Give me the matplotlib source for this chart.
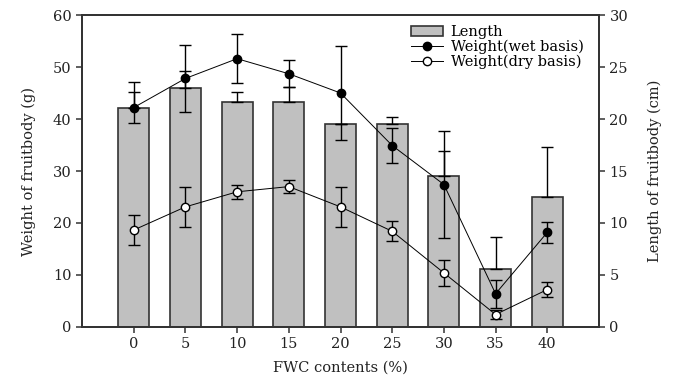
import matplotlib.pyplot as plt
from matplotlib.lines import Line2D

plt.rcParams["font.family"] = "DejaVu Serif"

fwc = [0, 5, 10, 15, 20, 25, 30, 35, 40]

# fruitbody length (cm), upper error only
length = [21.1, 23.0, 21.6, 21.6, 19.5, 19.5, 14.55, 5.55, 12.5]
length_err = [2.45, 1.6, 1.0, 1.5, 0.0, 0.65, 2.4, 3.1, 4.8]

# fruitbody weight (g)
wet = [42.2, 47.8, 51.6, 48.7, 45.0, 34.9, 27.4, 6.4, 18.2]
wet_err = [3.0, 6.5, 4.7, 2.6, 9.0, 3.3, 10.3, 2.7, 2.0]
dry = [18.65, 23.1, 26.0, 27.0, 23.1, 18.4, 10.4, 2.4, 7.2]
dry_err = [2.85, 3.8, 1.3, 1.3, 3.8, 1.9, 2.5, 0.8, 1.4]

fig = plt.figure(figsize=(6.74, 3.82), dpi=100)
ax = fig.add_axes([0.1217, 0.144, 0.767, 0.8167])
ax2 = ax.twinx()

edge = "#333333"
txt = "#222222"
bars = ax2.bar(fwc, length, width=3, color="#c0c0c0", edgecolor=edge,
               linewidth=1.2, label="Length")
ax2.errorbar(fwc, length, yerr=[[0] * len(fwc), length_err], fmt="none",
             ecolor="black", elinewidth=1, capsize=4, capthick=1)

ax.errorbar(fwc, wet, yerr=wet_err, color="black", marker="o",
            markersize=6, markerfacecolor="black", lw=0.7,
            elinewidth=1, capsize=4, capthick=1)
ax.errorbar(fwc, dry, yerr=dry_err, color="black", marker="o",
            markersize=6, markerfacecolor="white", lw=0.7,
            elinewidth=1, capsize=4, capthick=1)

# weight axis sits on top of the bar axis
ax.set_zorder(ax2.get_zorder() + 1)
ax.patch.set_visible(False)

ax.set_xlim(-5, 45)
ax.set_ylim(0, 60)
ax2.set_ylim(0, 30)
ax.set_xticks(fwc)
ax.set_yticks(range(0, 61, 10))
ax2.set_yticks(range(0, 31, 5))

for a in (ax, ax2):
    for s in a.spines.values():
        s.set_linewidth(1.3)
        s.set_color(edge)
    a.tick_params(direction="out", length=4, width=1.1, color=edge,
                  labelsize=10.5, labelcolor=txt)

ax.set_xlabel("FWC contents (%)", fontsize=10.5, color=txt, labelpad=7)
ax.set_ylabel("Weight of fruitbody (g)", fontsize=10.5, color=txt,
              labelpad=12)
ax2.set_ylabel("Length of fruitbody (cm)", fontsize=10.5, color=txt,
               labelpad=14)

h_wet = Line2D([], [], color="black", marker="o", markersize=6,
               markerfacecolor="black", lw=0.7)
h_dry = Line2D([], [], color="black", marker="o", markersize=6,
               markerfacecolor="white", lw=0.7)
ax.legend([bars, h_wet, h_dry],
          ["Length", "Weight(wet basis)", "Weight(dry basis)"],
          loc="upper right", frameon=False, fontsize=10.5,
          handlelength=2.2, handletextpad=0.5, labelspacing=0.05,
          borderaxespad=0.3, bbox_to_anchor=(0.99, 1.0))

fig.savefig("out.png", dpi=100)
